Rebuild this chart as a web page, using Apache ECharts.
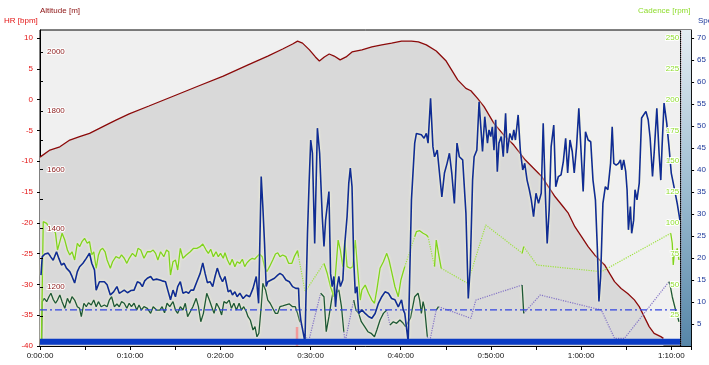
<!DOCTYPE html>
<html><head><meta charset="utf-8">
<script src="https://cdn.jsdelivr.net/npm/echarts@6/dist/echarts.min.js"></script>
<style>html,body{margin:0;padding:0;background:#fff}#c{width:709px;height:365px}</style>
</head><body><div id="c"></div><script>
// ---- axis ticks / labels ----
const timeLabelTicks = [0,10,20,30,40,50,60,70];            // minutes
const timeMinorTicks = [0,5,10,15,20,25,30,35,40,45,50,55,60,65,70];
const hrTicks = [-40,-35,-30,-25,-20,-15,-10,-5,0,5,10];
const altitudeTicks = [1100,1200,1300,1400,1500,1600,1700,1800,1900,2000];
const altitudeLabels = [1200,1400,1600,1800,2000];
const speedTicks = [5,10,15,20,25,30,35,40,45,50,55,60,65,70];
const cadenceTicks = [25,50,75,100,125,150,175,200,225,250];

// ---- series values [minute, value] ----
const altitudeM = [[0,1643],[1.10,1667],[2.20,1678],[3.30,1701],[4.39,1713],[5.49,1724],[6.59,1741],[7.69,1758],[8.42,1769],[9.89,1790],[12.08,1817],[14.83,1851],[17.57,1885],[20.32,1919],[23.07,1957],[25.26,1987],[26.91,2011],[28.01,2028],[28.56,2038],[29.11,2031],[29.88,2008],[30.54,1984],[30.98,1970],[31.53,1984],[32.07,1994],[32.62,1987],[33.28,1974],[33.94,1984],[34.60,2001],[35.70,2008],[36.80,2018],[37.90,2025],[38.99,2031],[40.09,2038],[41.19,2038],[41.96,2035],[42.84,2025],[43.94,2004],[45.04,1970],[46.32,1906],[47.23,1877],[47.78,1869],[48.52,1843],[49.24,1815],[50.34,1758],[51.44,1718],[52.54,1684],[53.82,1633],[54.92,1599],[55.66,1576],[56.39,1542],[57.12,1508],[57.86,1480],[58.58,1452],[59.31,1406],[60.05,1372],[60.78,1338],[61.51,1310],[62.06,1293],[62.61,1276],[63.16,1247],[63.71,1219],[64.44,1196],[65.17,1179],[65.91,1157],[66.45,1134],[67.00,1100],[67.55,1066],[68.10,1043],[68.84,1032],[69.13,1026]];

const speedKmh = [[0.11,16.1],[0.25,20.3],[0.55,20.9],[0.91,21.1],[1.21,20.2],[1.46,19.5],[1.83,21.4],[2.09,19.9],[2.38,18.4],[2.67,18.8],[2.93,17.7],[3.30,16.9],[3.55,15.8],[3.84,14.3],[4.14,16.9],[4.39,18.0],[4.76,18.8],[5.13,19.9],[5.49,21.1],[5.74,18.8],[6.04,17.3],[6.23,12.7],[6.59,14.6],[7.14,14.6],[7.44,13.9],[7.80,11.6],[8.16,12.3],[8.53,13.5],[8.79,12.0],[9.04,12.3],[9.34,12.7],[9.70,12.1],[10.07,12.6],[10.43,12.7],[10.80,14.6],[11.09,14.3],[11.35,13.5],[11.61,14.8],[11.90,15.4],[12.27,15.8],[12.55,15.0],[12.93,15.2],[13.29,15.0],[13.54,14.8],[13.92,14.6],[14.17,12.7],[14.47,10.5],[14.75,12.7],[15.02,11.2],[15.27,13.5],[15.56,14.6],[15.85,12.0],[16.22,12.3],[16.48,12.0],[16.73,12.7],[17.03,12.7],[17.39,14.6],[17.76,16.5],[18.05,18.9],[18.31,16.5],[18.56,14.4],[18.86,14.6],[19.15,13.5],[19.41,15.8],[19.66,17.7],[19.96,15.8],[20.24,14.6],[20.51,15.8],[20.87,12.3],[21.12,12.7],[21.34,11.6],[21.61,12.3],[21.86,11.2],[22.16,12.0],[22.52,10.8],[22.88,11.6],[23.25,11.2],[23.62,13.1],[23.98,15.8],[24.24,9.7],[24.53,38.5],[24.71,31.7],[24.90,23.3],[25.08,13.5],[25.26,14.6],[25.63,15.0],[26.00,15.4],[26.36,16.1],[26.61,16.5],[26.91,16.1],[27.27,15.0],[27.65,14.6],[28.01,13.5],[28.37,13.1],[28.67,13.1],[28.75,8.9],[28.92,5.9],[29.11,5.5],[29.38,0.9],[29.66,25.6],[29.84,37.0],[30.02,46.8],[30.21,43.8],[30.46,23.3],[30.76,49.5],[31.01,43.8],[31.30,29.4],[31.49,22.6],[31.67,28.6],[32.04,35.1],[32.22,16.5],[32.40,13.5],[32.59,15.8],[32.77,8.9],[32.95,13.5],[33.14,15.8],[33.31,13.5],[33.58,15.0],[33.80,23.3],[34.05,29.4],[34.24,37.0],[34.41,40.4],[34.60,36.2],[34.79,19.5],[34.96,12.0],[35.15,13.5],[35.34,7.4],[35.70,8.2],[36.06,7.4],[36.43,6.7],[36.80,6.3],[37.16,7.4],[37.53,9.7],[37.90,11.2],[38.26,12.3],[38.63,12.0],[38.99,10.8],[39.36,10.5],[39.73,8.9],[40.09,10.5],[40.28,8.2],[40.45,7.4],[40.83,0.9],[41.19,33.2],[41.55,46.1],[41.74,48.3],[42.29,48.0],[42.59,47.2],[42.84,48.3],[43.03,46.1],[43.31,56.3],[43.57,45.3],[43.75,43.0],[44.05,44.5],[44.30,39.3],[44.56,33.9],[44.85,39.3],[45.14,41.5],[45.40,43.8],[45.66,39.3],[45.95,32.4],[46.24,46.1],[46.50,43.0],[46.87,42.3],[47.23,30.2],[47.49,10.8],[47.71,18.0],[47.97,37.7],[48.14,43.0],[48.44,44.5],[48.69,55.5],[48.88,49.8],[49.07,44.2],[49.32,52.1],[49.62,46.1],[49.79,49.1],[49.98,47.6],[50.16,49.8],[50.34,44.5],[50.53,51.4],[50.71,39.6],[50.89,46.1],[51.15,47.6],[51.37,43.0],[51.63,52.9],[51.81,43.8],[52.10,48.3],[52.36,46.8],[52.54,49.1],[52.72,46.8],[53.02,52.5],[53.27,44.2],[53.53,40.0],[53.75,41.5],[54.01,37.7],[54.26,35.5],[54.48,33.2],[54.73,29.4],[55.00,34.7],[55.28,32.4],[55.58,34.7],[55.80,50.6],[56.02,35.5],[56.24,23.3],[56.46,30.9],[56.68,45.3],[56.97,50.2],[57.19,36.2],[57.48,38.5],[57.78,38.9],[58.03,41.9],[58.29,47.2],[58.51,39.3],[58.77,46.8],[59.02,44.2],[59.24,39.3],[59.50,45.3],[59.75,54.0],[59.97,45.3],[60.23,35.1],[60.49,48.7],[60.78,46.8],[61.07,46.4],[61.32,37.7],[61.59,33.2],[61.81,21.8],[61.98,10.1],[62.17,15.8],[62.42,32.4],[62.69,36.2],[62.97,35.5],[63.27,41.5],[63.45,49.8],[63.63,41.5],[63.89,41.1],[64.15,41.5],[64.37,42.3],[64.51,40.0],[64.73,42.3],[64.95,39.6],[65.10,35.5],[65.25,26.4],[65.47,31.7],[65.61,25.6],[65.83,28.6],[65.98,35.5],[66.20,33.2],[66.45,37.0],[66.71,51.8],[66.93,51.8],[67.19,53.3],[67.44,51.4],[67.66,47.2],[67.92,38.5],[68.10,43.8],[68.40,54.0],[68.65,43.8],[68.84,37.7],[68.98,45.3],[69.20,55.2],[69.50,50.6],[69.75,45.3],[70.00,39.3],[70.30,36.2],[70.66,32.4],[70.96,28.6]];

// cadence recorded segments (null = no data)
const cadenceRpm = [[0.16,4.9],[0.36,100.9],[0.74,99.6],[1.10,94.2],[1.46,95.5],[1.72,91.5],[1.94,77.9],[2.20,84.7],[2.45,91.5],[2.75,86.0],[3.04,77.9],[3.30,73.9],[3.55,76.5],[3.84,69.8],[4.14,83.4],[4.39,80.6],[4.65,84.7],[4.94,87.4],[5.24,83.4],[5.49,84.7],[5.74,73.9],[5.96,76.5],[6.23,62.9],[6.48,73.9],[6.70,77.9],[6.95,79.3],[7.22,76.5],[7.44,69.8],[7.80,63.1],[8.05,68.4],[8.42,72.5],[8.79,71.2],[9.04,73.9],[9.34,71.2],[9.63,67.1],[9.89,71.2],[10.25,75.2],[10.62,72.5],[10.87,79.3],[11.17,77.9],[11.53,71.2],[11.90,76.5],[12.27,76.5],[12.55,77.9],[12.82,75.2],[13.07,69.8],[13.37,76.5],[13.73,72.5],[14.03,77.9],[14.28,76.5],[14.47,57.6],[14.75,68.4],[15.02,69.8],[15.27,61.7],[15.56,79.3],[15.85,71.2],[16.22,73.9],[16.66,76.5],[17.03,79.3],[17.39,79.3],[17.76,80.6],[18.05,82.8],[18.42,77.9],[18.67,75.2],[18.93,78.5],[19.22,72.5],[19.52,76.5],[19.77,72.5],[20.02,75.2],[20.32,71.2],[20.51,75.7],[20.79,69.8],[21.06,65.7],[21.31,70.4],[21.61,64.4],[21.86,68.4],[22.16,67.1],[22.44,70.4],[22.70,64.4],[22.96,67.6],[23.25,69.8],[23.54,71.2],[23.80,70.4],[24.06,72.5],[24.35,74.7],[24.64,72.5],[24.90,64.4],[25.15,60.3],[25.45,64.4],[25.81,69.8],[26.11,74.7],[26.36,75.7],[26.61,72.5],[26.91,73.9],[27.27,72.5],[27.57,67.1],[27.93,67.1],[28.20,72.5],[28.56,77.4],[28.67,72.5],[29.5,null],
[31.49,67.1],[31.85,59.0],[32.22,48.1],[32.59,40.0],[32.77,59.0],[33.06,86.0],[33.31,77.9],[33.58,64.4],[33.80,86.0],[34.05,64.4],[34.41,63.1],[34.68,64.4],[34.96,86.0],[35.23,61.7],[35.51,37.3],[35.70,45.5],[36.06,49.5],[36.43,42.8],[36.80,37.3],[37.09,34.7],[37.35,45.5],[37.71,63.1],[38.08,68.4],[38.45,75.2],[38.70,69.8],[38.99,60.3],[39.36,48.1],[39.73,40.0],[40.02,53.6],[40.28,60.3],[40.45,64.4],[41.0,null],
[41.55,88.7],[41.74,92.8],[42.10,93.6],[42.48,91.5],[42.84,90.1],[43.03,88.7],[43.4,null],
[43.75,64.4],[43.94,86.0],[44.19,75.2],[44.49,63.1],[50,null],
[53.46,75.2],[53.64,80.6],[60,null],
[69.94,91.5],[70.11,83.4],[70.22,65.7],[70.37,77.9],[70.52,75.2],[70.66,79.3],[70.85,69.8]];
// cadence gaps bridged (dotted)
const cadenceGapRpm = [[28.67,72.5],[29.40,44.1],[31.49,67.1],[35,null],[40.45,64.4],[41.55,88.7],[42,null],[43.03,88.7],[43.75,64.4],[44,null],[44.49,63.1],[47.42,50.9],[49.43,98.2],[53.27,76.5],[53.46,75.2],[53.55,null],[53.64,80.6],[55.11,65.7],[62.25,60.3],[69.94,91.5]];

// second (dark green) channel, same scale as cadence
const secondChannel = [[0.19,2.2],[0.25,36.0],[0.47,38.7],[0.74,36.0],[0.99,40.0],[1.21,42.8],[1.46,37.9],[1.72,34.7],[1.94,37.3],[2.20,41.4],[2.45,36.0],[2.75,30.6],[3.04,38.7],[3.30,34.7],[3.55,40.0],[3.84,37.3],[4.14,31.9],[4.39,30.6],[4.58,23.8],[4.87,34.7],[5.13,31.9],[5.38,35.1],[5.68,33.3],[5.96,37.3],[6.23,31.9],[6.48,36.0],[6.78,31.9],[7.14,33.3],[7.44,31.9],[7.69,37.3],[7.94,40.0],[8.24,31.9],[8.53,34.1],[8.79,31.9],[9.04,36.0],[9.34,34.7],[9.63,30.6],[9.89,34.7],[10.14,31.9],[10.43,34.7],[10.73,29.2],[10.98,33.3],[11.24,29.2],[11.53,31.9],[11.90,30.6],[12.27,26.5],[12.55,31.9],[12.93,29.2],[13.29,29.2],[13.54,31.9],[13.81,27.0],[14.09,34.7],[14.39,31.9],[14.75,36.0],[15.02,29.2],[15.27,26.5],[15.56,31.9],[15.85,29.2],[16.11,34.7],[16.37,23.8],[16.66,27.8],[16.95,31.9],[17.32,38.7],[17.57,31.9],[17.83,19.7],[18.12,26.5],[18.49,42.8],[18.78,37.3],[19.04,31.9],[19.30,26.5],[19.58,34.7],[19.88,30.6],[20.14,25.2],[20.40,36.0],[20.68,34.7],[20.98,37.3],[21.23,30.6],[21.50,34.7],[21.78,29.2],[22.08,34.7],[22.33,29.2],[22.59,31.9],[22.88,27.8],[23.07,23.8],[23.32,21.1],[23.62,13.0],[23.84,15.7],[24.06,7.5],[24.27,10.3],[24.53,31.9],[24.71,50.9],[25.01,45.5],[25.26,37.3],[25.52,34.7],[25.81,30.6],[26.11,26.5],[26.36,26.5],[26.61,31.9],[26.91,32.5],[27.27,33.3],[27.65,34.1],[28.01,31.9],[28.31,31.9],[28.56,26.5],[28.81,19.7],[30,null],
[31.12,42.8],[31.49,40.0],[31.74,11.6],[32.04,23.8],[32.33,37.3],[32.59,48.1],[32.84,42.8],[33.14,45.5],[33.43,31.9],[33.69,11.6],[34,null],
[34.79,37.3],[35.04,29.2],[35.34,26.5],[35.63,19.7],[36.00,15.7],[36.36,11.6],[36.72,10.3],[37.09,7.5],[37.35,13.0],[37.71,21.1],[38.08,26.5],[38.45,29.2],[38.6,null],
[38.81,17.0],[38.99,17.0],[39.18,19.7],[39.54,18.4],[39.91,21.1],[40.28,18.4],[40.53,15.7],[41.08,22.7],[41.55,40.0],[41.92,42.8],[42.10,37.3],[42.29,26.5],[42.48,36.0],[42.65,30.6],[42.95,7.5],[43.5,null],
[43.94,29.2],[44.19,31.9],[50,null],
[53.46,49.5],[53.64,26.5],[60,null],
[69.75,52.2],[69.94,46.8],[70.11,40.0],[70.30,38.7],[70.48,29.2],[70.66,25.2],[70.85,19.7]];
// second channel gaps bridged (dotted)
const secondChannelGap = [[28.81,19.7],[29.77,3.2],[31.12,42.8],[32,null],[33.69,11.6],[33.83,3.2],[34.79,37.3],[36,null],[38.45,29.2],[38.81,17.0],[40,null],[42.95,7.5],[43.20,3.2],[43.94,29.2],[44.1,null],[44.19,31.9],[47.78,22.5],[48.33,37.3],[53.46,49.5],[53.55,null],[53.64,26.5],[55.47,41.4],[62.25,29.2],[63.71,6.2],[64.81,6.2],[69.75,52.2]];

const avgSpeed = [[0,8.2],[71.0,8.2]];          // dash-dot reference
const hrBottom = [[0,-39.3],[71.0,-39.3]];      // HR trace (clipped at bottom)
const lapMarker = [[28.5,-40],[28.5,-36.9]];
const endMarker = [[71.05,-40],[71.05,11.3]];
const summaryRange = [71.0, 72.2];

const X_MAX = 72.2;
const FONT = 'Liberation Sans';

function gaps(arr){ return arr.map(p => p[1] === null ? [p[0], '-'] : p); }
function fmtTime(m){
  const s = Math.round(m*60), h = Math.floor(s/3600), mm = Math.floor((s%3600)/60), ss = s%60;
  return h + ':' + String(mm).padStart(2,'0') + ':' + String(ss).padStart(2,'0');
}
const plain = v => String(v);
const glow = {shadowColor:'rgba(255,255,215,0.95)', shadowBlur:3};

const chart = echarts.init(document.getElementById('c'), null, {renderer:'canvas'});
chart.setOption({
  animation:false,
  grid:{left:40,right:12,top:30,bottom:19,show:true,backgroundColor:'#f0f0f0',borderColor:'#000',borderWidth:1},
  xAxis:{type:'value',min:0,max:X_MAX,
    axisLine:{onZero:false,lineStyle:{color:'#000',width:1}},
    axisTick:{customValues:timeMinorTicks.concat([X_MAX]),length:4,lineStyle:{color:'#000'}},
    axisLabel:{customValues:timeLabelTicks,formatter:fmtTime,color:'#111',fontSize:8,fontFamily:FONT,margin:6},
    splitLine:{show:false}},
  yAxis:[
    {type:'value',position:'left',min:-40,max:11.3,
     axisLine:{show:true,onZero:false,lineStyle:{color:'#000'}},
     axisTick:{show:true,customValues:hrTicks,length:3,lineStyle:{color:'#000'}},
     axisLabel:{customValues:hrTicks,formatter:plain,color:'#e31414',fontSize:8,fontFamily:FONT,margin:7},
     splitLine:{show:false}},
    {type:'value',position:'left',min:1000,max:2075.7,z:10,
     axisLine:{show:false,onZero:false},
     axisTick:{show:true,inside:true,customValues:altitudeTicks,length:3,lineStyle:{color:'#000'}},
     axisLabel:{inside:true,customValues:altitudeLabels,formatter:plain,hideOverlap:false,color:'#8b1a1a',fontSize:8,fontFamily:FONT,margin:7,textBorderColor:'#fff',textBorderWidth:2},
     splitLine:{show:false}},
    {type:'value',position:'right',min:0,max:71.8,
     axisLine:{show:true,onZero:false,lineStyle:{color:'#000'}},
     axisTick:{show:true,customValues:speedTicks,length:3,lineStyle:{color:'#000'}},
     axisLabel:{customValues:speedTicks,formatter:plain,color:'#1a3699',fontSize:8,fontFamily:FONT,margin:6},
     splitLine:{show:false}},
    {type:'value',position:'right',offset:-11,min:0,max:256.5,z:10,
     axisLine:{show:true,onZero:false,lineStyle:{color:'#000',type:'dotted'}},
     axisTick:{show:false},
     axisLabel:{inside:true,customValues:cadenceTicks,formatter:plain,color:'#8edc2c',fontSize:8,fontFamily:FONT,margin:1,textBorderColor:'#fff',textBorderWidth:2},
     splitLine:{show:false}}
  ],
  graphic:[
    {type:'text',left:4,top:17,style:{text:'HR [bpm]',fill:'#e31414',font:'8px "Liberation Sans"'}},
    {type:'text',left:40,top:7,style:{text:'Altitude [m]',fill:'#8b1010',font:'8px "Liberation Sans"'}},
    {type:'text',left:638,top:7,style:{text:'Cadence [rpm]',fill:'#8edc2c',font:'8px "Liberation Sans"'}},
    {type:'text',left:698,top:17,style:{text:'Speed [km/h]',fill:'#1a3699',font:'8px "Liberation Sans"'}}
  ],
  series:[
    {name:'Altitude',type:'line',yAxisIndex:1,data:altitudeM,showSymbol:false,z:1,
     lineStyle:{color:'#8b0a0a',width:1.3},areaStyle:{color:'#d9d9d9',opacity:1,origin:'start'},
     markArea:{silent:true,itemStyle:{color:new echarts.graphic.LinearGradient(0,0,0,1,[{offset:0,color:'#e4edf2'},{offset:0.5,color:'#9dbdd1'},{offset:1,color:'#5686a8'}])},
       data:[[{xAxis:summaryRange[0]},{xAxis:summaryRange[1]}]]}},
    {name:'Second gap',type:'line',yAxisIndex:3,data:gaps(secondChannelGap),showSymbol:false,z:3,connectNulls:false,
     lineStyle:{color:'#8474c6',width:1.2,type:'dotted'}},
    {name:'Second',type:'line',yAxisIndex:3,data:gaps(secondChannel),showSymbol:false,z:4,connectNulls:false,
     lineStyle:Object.assign({color:'#1d5836',width:1.3},glow)},
    {name:'Cadence gap',type:'line',yAxisIndex:3,data:gaps(cadenceGapRpm),showSymbol:false,z:3,connectNulls:false,
     lineStyle:{color:'#9ee23f',width:1.2,type:'dotted'}},
    {name:'Cadence',type:'line',yAxisIndex:3,data:gaps(cadenceRpm),showSymbol:false,z:5,connectNulls:false,
     lineStyle:Object.assign({color:'#7fd41c',width:1.3},glow)},
    {name:'Avg speed',type:'line',yAxisIndex:2,data:avgSpeed,showSymbol:false,z:6,
     lineStyle:{color:'#3344e0',width:1.4,type:[7,3,2,3]}},
    {name:'Speed',type:'line',yAxisIndex:2,data:speedKmh,showSymbol:false,z:7,
     lineStyle:Object.assign({color:'#102c94',width:1.6},glow)},
    {name:'End',type:'line',yAxisIndex:0,data:endMarker,showSymbol:false,z:8,
     lineStyle:{color:'#d02020',width:1,type:'dotted'}},
    {name:'Lap',type:'line',yAxisIndex:0,data:lapMarker,showSymbol:false,z:8,
     lineStyle:{color:'#f29a9a',width:2.5}},
    {name:'HR',type:'line',yAxisIndex:0,data:hrBottom,showSymbol:false,z:9,
     lineStyle:{color:'#0a3bc4',width:6,cap:'butt'}}
  ]
});
</script></body></html>
